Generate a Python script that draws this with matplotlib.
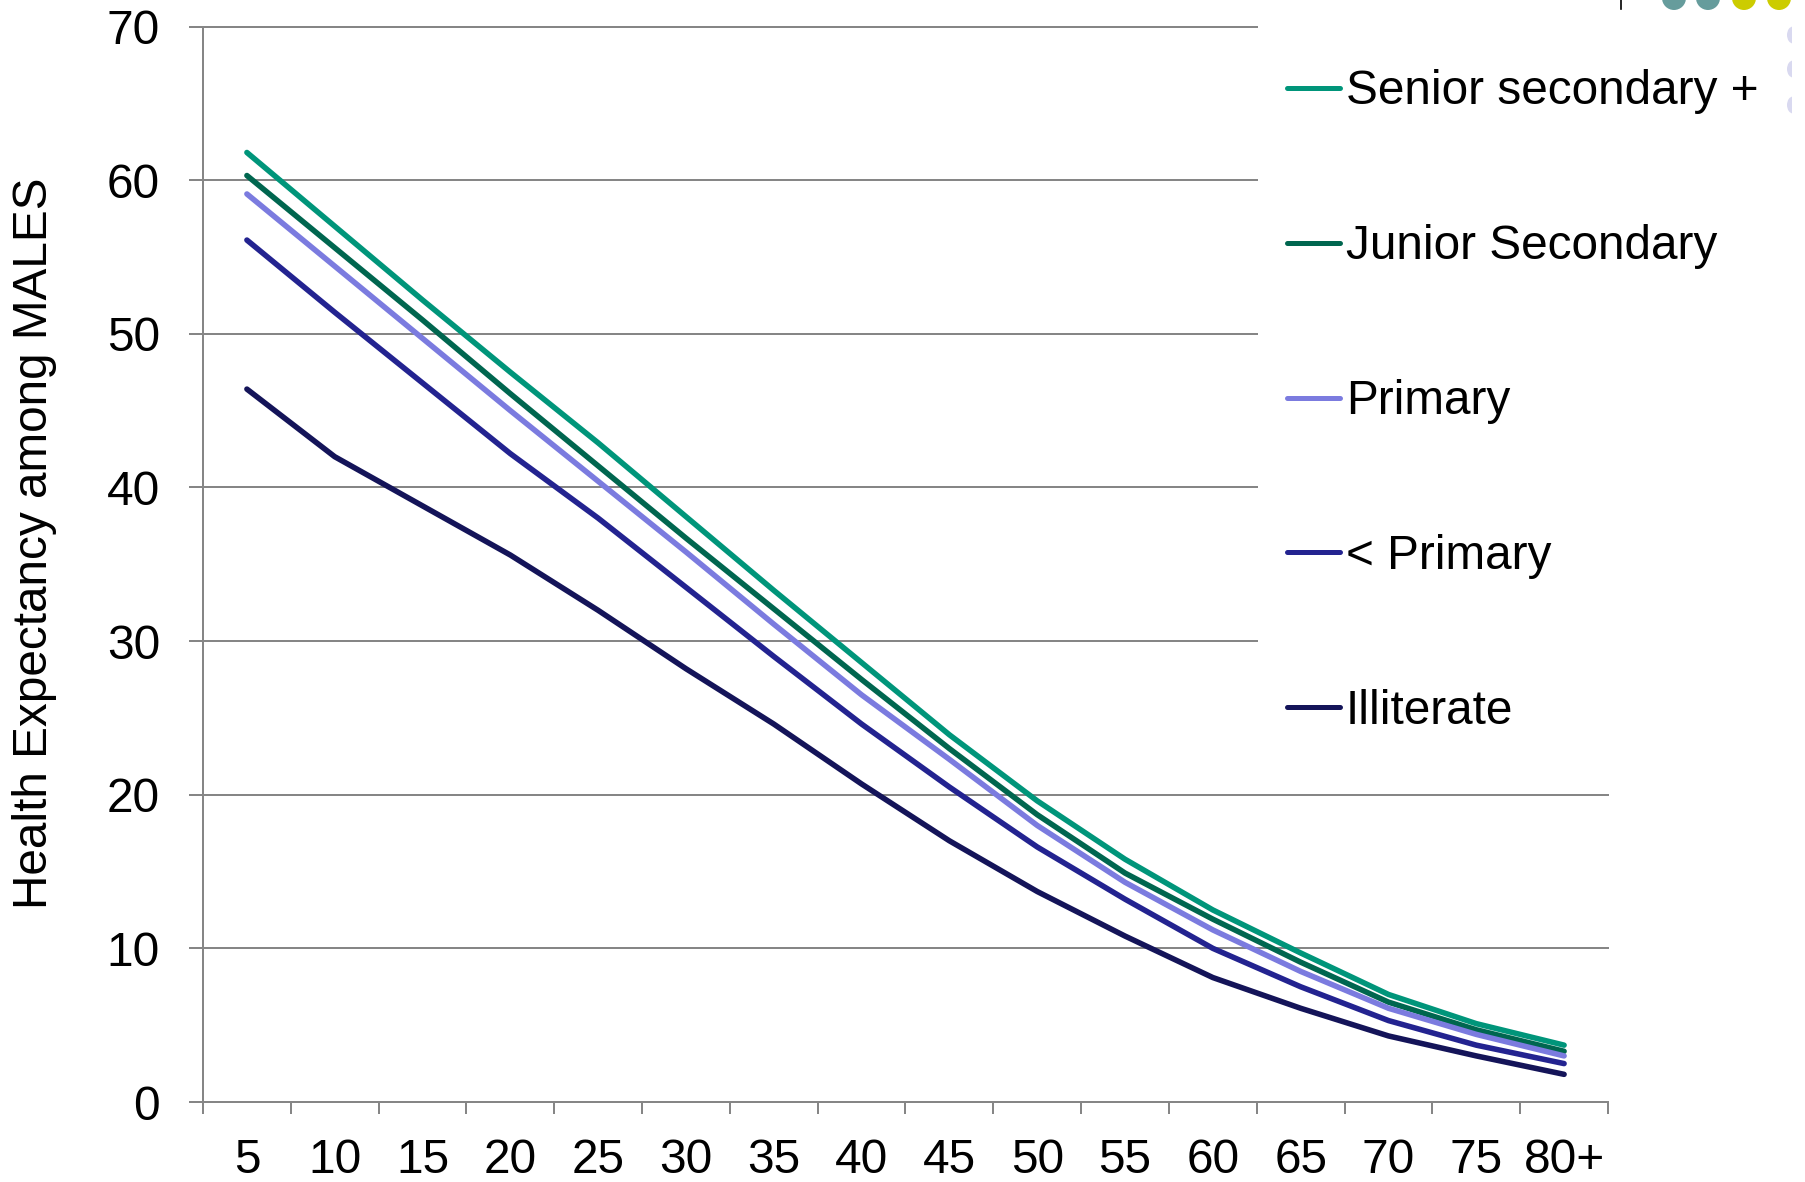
import matplotlib
matplotlib.use("Agg")
from matplotlib import pyplot as plt
from matplotlib.patches import Ellipse, Rectangle
import numpy as np

plt.rcParams["font.family"] = ["Liberation Sans", "DejaVu Sans"]

age_groups = ["5", "10", "15", "20", "25", "30", "35", "40",
              "45", "50", "55", "60", "65", "70", "75", "80+"]

senior_secondary = [61.8, 57.0, 52.2, 47.5, 42.9, 38.1, 33.3, 28.6,
                    23.9, 19.6, 15.8, 12.5, 9.7, 7.0, 5.1, 3.7]
junior_secondary = [60.3, 55.6, 50.9, 46.1, 41.4, 36.7, 32.1, 27.5,
                    23.0, 18.7, 14.9, 11.9, 9.1, 6.5, 4.7, 3.3]
primary = [59.1, 54.4, 49.7, 45.0, 40.4, 35.8, 31.1, 26.5,
           22.3, 18.0, 14.3, 11.2, 8.5, 6.1, 4.4, 3.0]
below_primary = [56.1, 51.4, 46.8, 42.2, 38.0, 33.5, 29.0, 24.6,
                 20.5, 16.6, 13.2, 10.0, 7.5, 5.3, 3.7, 2.5]
illiterate = [46.4, 42.0, 38.8, 35.6, 32.0, 28.2, 24.6, 20.7,
              17.0, 13.7, 10.8, 8.1, 6.1, 4.3, 3.0, 1.8]

labels = ["Senior secondary +", "Junior Secondary", "Primary", "< Primary", "Illiterate"]
colours = ["#00957A", "#00664F", "#7B7BDF", "#232390", "#141459"]

W, H = 1806, 1182
grey = "#868686"
fs = 34.4

fig = plt.figure(figsize=(W / 100, H / 100), dpi=100)
ax = fig.add_axes([203 / W, 1 - 1102 / H, (1608 - 203) / W, (1102 - 26.5) / H])

x = np.arange(len(age_groups))
series = [senior_secondary, junior_secondary, primary, below_primary, illiterate]
for values, label, colour in zip(series, labels, colours):
    ax.plot(x, values, color=colour, lw=4.0, solid_capstyle="round",
            solid_joinstyle="round", label=label, zorder=3)

ax.set_xlim(-0.5, len(age_groups) - 0.5)
ax.set_ylim(0, 70)
ax.set_yticks(range(0, 71, 10))
ax.set_xticks(x)
ax.set_xticklabels(age_groups)
ax.set_xticks(np.arange(-0.5, len(age_groups), 1), minor=True)

ax.yaxis.grid(True, color=grey, lw=1.44)
ax.set_axisbelow(True)
for gl in ax.get_ygridlines():
    gl.set_clip_on(False)

ax.tick_params(axis="x", which="major", length=0, pad=26, labelsize=fs)
ax.tick_params(axis="x", which="minor", length=8.6, width=1.44, color=grey)
ax.tick_params(axis="y", length=10, width=1.44, color=grey, pad=21, labelsize=fs)
for side in ["top", "right"]:
    ax.spines[side].set_visible(False)
for side in ["left", "bottom"]:
    ax.spines[side].set_color(grey)
    ax.spines[side].set_linewidth(1.44)

fig.text(35 / W, 1 - 543 / H, "Health Expectancy among MALES", rotation=90,
         ha="center", va="center", fontsize=fs)

# white legend area hides the upper gridlines on the right
ax.add_patch(Rectangle((0.7509, 0.37), 0.3, 0.66, transform=ax.transAxes,
                       facecolor="white", edgecolor="none", zorder=2, clip_on=False))

leg = ax.legend(loc="upper left", bbox_to_anchor=(1287 / W, 1 - 69.5 / H),
                bbox_transform=fig.transFigure, borderaxespad=0, borderpad=0,
                frameon=False, handlelength=1.11, handletextpad=0.12,
                labelspacing=2.3, fontsize=fs)
for line in leg.get_lines():
    line.set_linewidth(3.6)

# slide template decorations in the top right corner
fig.add_artist(plt.Line2D([1620.7 / W, 1620.7 / W], [1, 1 - 9 / H],
                          transform=fig.transFigure, color="black", lw=1.2))
for cx, c in zip([1674, 1708, 1744, 1779], ["#669C9C", "#669C9C", "#CCCC00", "#CCCC00"]):
    fig.add_artist(Ellipse((cx / W, 1 + 2 / H), 24 / W, 24 / H,
                           transform=fig.transFigure, color=c, lw=0))
clip = Rectangle((0, 0), 1792 / W, 1, transform=fig.transFigure)
for cy in [35, 69, 105]:
    e = Ellipse((1793 / W, 1 - cy / H), 12 / W, 17 / H,
                transform=fig.transFigure, color="#D9D9F0", lw=0)
    fig.add_artist(e)
    e.set_clip_path(clip)

fig.savefig("out.png", dpi=100)
